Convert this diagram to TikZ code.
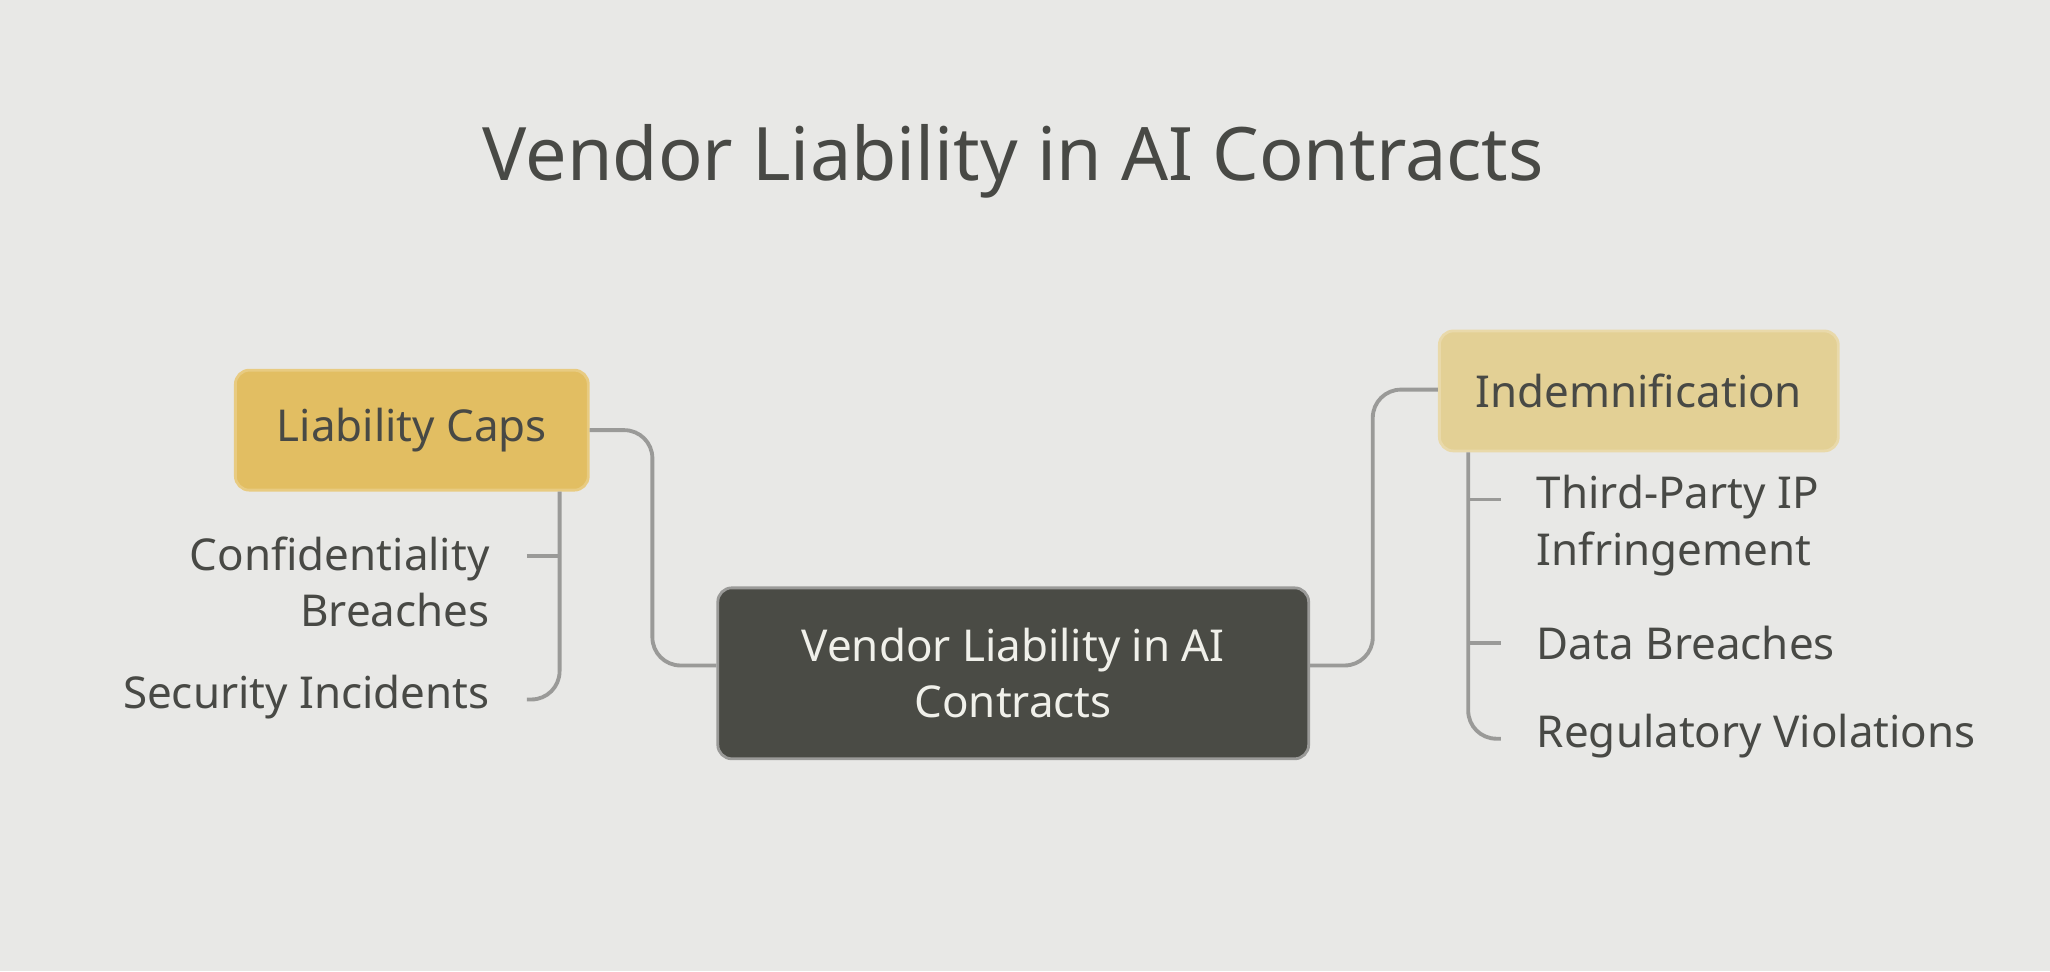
\documentclass[tikz,border=0pt]{standalone}
\usepackage{fontspec}
\setmainfont{Noto Sans}
\usetikzlibrary{positioning}
\definecolor{bggray}{RGB}{232, 232, 230}
\definecolor{linegray}{RGB}{154, 154, 152}
\definecolor{textdark}{RGB}{72, 73, 69}
\definecolor{capgold}{RGB}{226, 190, 98}
\definecolor{indemgold}{RGB}{227, 208, 149}
\definecolor{centerdark}{RGB}{74, 75, 69}
\definecolor{centertext}{RGB}{240, 240, 234}

\begin{document}
\begin{tikzpicture}[
    x=0.013074cm, y=-0.013074cm,
    topicnode/.style={
        rectangle,
        rounded corners=4pt,
        draw=#1!80!white,
        fill=#1,
        line width=0.8pt,
        align=center,
        font=\fontsize{12.5}{15}\selectfont\bfseries\color{textdark}
    },
    leafnode/.style={
        font=\fontsize{12.5}{16}\selectfont\color{textdark},
        inner sep=0pt
    },
    conn/.style={line width=1.1pt, color=linegray, rounded corners=8pt}
]
    % Background
    \fill[bggray] (0,0) rectangle (1568,743);

    % Title
    \node[font=\fontsize{21}{25}\selectfont\bfseries\color{textdark}] (title) at (775,123) {Vendor Liability in AI Contracts};

    % Main topics
    \node[topicnode=centerdark, draw=linegray, minimum width=452\pgflinewidth, text=centertext,
          font=\fontsize{12.5}{16}\selectfont\bfseries\color{centertext},
          minimum width=5.91cm, minimum height=1.71cm] (center) at (775,515) {Vendor Liability in AI\\Contracts};
    \node[topicnode=capgold, minimum width=3.53cm, minimum height=1.2cm] (caps) at (315,329) {Liability Caps};
    \node[topicnode=indemgold, minimum width=3.99cm, minimum height=1.2cm] (indem) at (1253.5,299) {Indemnification};

    % Branches
    \draw[conn] (caps.east) -| (499,509) -- (center.west |- 0,509);
    \draw[conn] (center.east |- 0,509) -| (1050,298) -- (indem.west |- 0,298);

    % Leaves of Liability Caps
    \node[leafnode, align=right, anchor=east] (conf) at (375,445) {Confidentiality\\Breaches};
    \node[leafnode, anchor=east] (sec) at (375,533) {Security Incidents};
    \coordinate (capsfoot) at (428,535);
    \draw[conn] (caps.south -| capsfoot) -- (capsfoot) -- (403,535);
    \draw[conn] (403,425) -- (428,425);

    % Leaves of Indemnification
    \node[leafnode, align=left, anchor=west] (ip) at (1175,402) {Third-Party IP\\Infringement};
    \node[leafnode, anchor=west] (data) at (1175,492) {Data Breaches};
    \node[leafnode, anchor=west] (reg) at (1175,563) {Regulatory Violations};
    \coordinate (indemfoot) at (1123,565);
    \draw[conn] (indem.south -| indemfoot) -- (indemfoot) -- (1148,565);
    \draw[conn] (1123,382) -- (1148,382);
    \draw[conn] (1123,492) -- (1148,492);
\end{tikzpicture}
\end{document}
